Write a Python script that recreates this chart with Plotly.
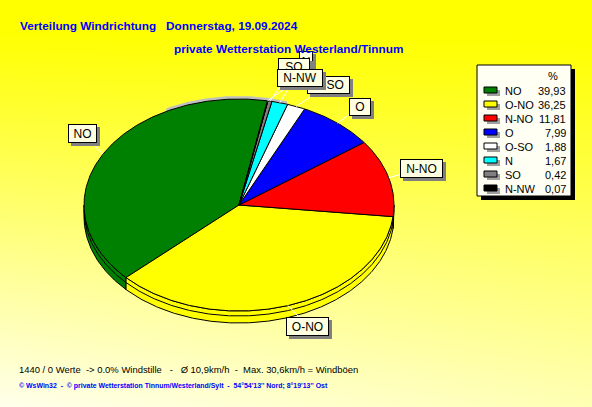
import numpy as np
import plotly.graph_objects as go

# ---------------- data ----------------
labels = ["NO", "O-NO", "N-NO", "O", "O-SO", "N", "SO", "N-NW"]
values = [39.93, 36.25, 11.81, 7.99, 1.88, 1.67, 0.42, 0.07]
value_text = ["39,93", "36,25", "11,81", "7,99", "1,88", "1,67", "0,42", "0,07"]
colors = ["#008000", "#FFFF00", "#FF0000", "#0000FF", "#FFFFFF", "#00FFFF", "#808080", "#000000"]

title1 = "Verteilung Windrichtung   Donnerstag, 19.09.2024"
title2 = "private Wetterstation Westerland/Tinnum"
footer1 = "1440 / 0 Werte  -> 0.0% Windstille   -   Ø 10,9km/h  -  Max. 30,6km/h = Windböen"
footer2 = "© WsWin32  -  © private Wetterstation Tinnum/Westerland/Sylt  -  54°54'13'' Nord; 8°19'13'' Ost"

# ---------------- layout constants ----------------
W, H = 592, 407
CX, CY, RX, RY, DEPTH = 239, 205, 155, 106, 12
START = 79.5  # degrees, counter-clockwise

# label box centres and sizes (pixels)
label_pos = {
    "NO": (82.5, 133.5, 29, 19),
    "N-NO": (421.5, 168.5, 43, 19),
    "O-NO": (307.5, 326, 43, 19),
    "O": (360, 106.5, 22, 18),
    "N": (306, 60, 14, 19),
    "SO": (294, 67, 32, 18),
    "O-SO": (328.5, 84.5, 43, 18),
    "N-NW": (300, 78, 46, 18),
}
label_valign = {"N": "bottom"}
label_draw_order = ["NO", "N-NO", "O-NO", "O", "N", "SO", "O-SO", "N-NW"]

SANS = "Liberation Sans, Arial, sans-serif"


def sp(s):
    return s.replace(" ", "\u00a0")


def ell(theta_deg, dy=0.0, rx=RX, ry=RY):
    t = np.radians(theta_deg)
    return CX + rx * np.cos(t), CY - ry * np.sin(t) + dy


fig = go.Figure()

# background gradient
gx = np.linspace(0, W, 60)
gy = np.linspace(0, H, 45)
GX, GY = np.meshgrid(gx, gy)
GZ = np.clip((GY / H) * (1.0 - 0.22 * GX / W) * 1.08 - 0.08, 0, 1)
fig.add_trace(go.Heatmap(x=gx, y=gy, z=GZ, zsmooth="best", showscale=False,
                         colorscale=[[0, "rgb(255,255,0)"], [1, "rgb(255,255,236)"]],
                         zmin=0, zmax=1, hoverinfo="skip"))

total = sum(values)
bounds = START + 360.0 * np.concatenate([[0], np.cumsum(values)]) / total

# light grey rim at the back top
th = np.linspace(72, 118, 60)
bx1, by1 = ell(th, -3)
bx2, by2 = ell(th[::-1])
fig.add_trace(go.Scatter(x=np.concatenate([bx1, bx2]), y=np.concatenate([by1, by2]),
                         fill="toself", fillcolor="#C0C0C0", line=dict(width=0),
                         mode="lines", hoverinfo="skip", showlegend=False))

# side walls (front half)
for i, lab in enumerate(labels):
    a0, a1 = bounds[i], bounds[i + 1]
    lo, hi = max(a0, 180), min(a1, 360)
    if hi <= lo:
        continue
    th = np.linspace(lo, hi, max(4, int((hi - lo) * 2)))
    tx, ty = ell(th)
    bx, by = ell(th[::-1], DEPTH)
    fig.add_trace(go.Scatter(x=np.concatenate([tx, bx, tx[:1]]), y=np.concatenate([ty, by, ty[:1]]),
                             fill="toself", fillcolor=colors[i], line=dict(color="black", width=1),
                             mode="lines", hoverinfo="skip", showlegend=False))
    mx, my = ell(th, 5)
    fig.add_trace(go.Scatter(x=mx, y=my, mode="lines", line=dict(color="black", width=1),
                             hoverinfo="skip", showlegend=False))

# top surfaces
for i, lab in enumerate(labels):
    a0, a1 = bounds[i], bounds[i + 1]
    th = np.linspace(a0, a1, max(3, int((a1 - a0) * 2)))
    tx, ty = ell(th)
    fig.add_trace(go.Scatter(x=np.concatenate([[CX], tx, [CX]]), y=np.concatenate([[CY], ty, [CY]]),
                             fill="toself", fillcolor=colors[i], line=dict(color="black", width=1),
                             mode="lines", hoverinfo="skip", showlegend=False, name=lab))

# leader lines
for i, lab in enumerate(labels):
    mid = 0.5 * (bounds[i] + bounds[i + 1])
    ex, ey = ell(mid)
    lx, ly, _, _ = label_pos[lab]
    fig.add_trace(go.Scatter(x=[ex, lx], y=[ey, ly], mode="lines",
                             line=dict(color="white", width=1), hoverinfo="skip", showlegend=False))

annotations = []
for lab in label_draw_order:
    lx, ly, w, h = label_pos[lab]
    va = label_valign.get(lab, "middle")
    annotations.append(dict(x=lx, y=ly, xref="x", yref="y", text=lab, showarrow=False,
                            xshift=3, yshift=-3, width=w - 2, height=h - 2, borderpad=0, valign=va,
                            bgcolor="#808080", bordercolor="#808080", borderwidth=1,
                            font=dict(family=SANS, size=12, color="#808080")))
    annotations.append(dict(x=lx, y=ly, xref="x", yref="y", text=lab, showarrow=False,
                            width=w - 2, height=h - 2, borderpad=0, valign=va,
                            bgcolor="#FFFFE1", bordercolor="black", borderwidth=1,
                            font=dict(family=SANS, size=12, color="black")))

# legend box
shapes = [
    dict(type="rect", xref="x", yref="y", x0=481, x1=575, y0=69, y1=200,
         fillcolor="black", line=dict(width=0), layer="above"),
    dict(type="rect", xref="x", yref="y", x0=477, x1=571, y0=65, y1=196,
         fillcolor="#FFFFF4", line=dict(color="black", width=1), layer="above"),
]
annotations.append(dict(x=553, y=75.5, xref="x", yref="y", text="%", showarrow=False,
                        font=dict(family=SANS, size=11, color="black")))
row0, dr = 91.0, 14.0
for i, lab in enumerate(labels):
    ry = row0 + i * dr
    shapes.append(dict(type="rect", xref="x", yref="y", x0=487, x1=500, y0=ry - 1, y1=ry + 5,
                       fillcolor="#A0A0A0", line=dict(width=0), layer="above"))
    shapes.append(dict(type="rect", xref="x", yref="y", x0=484, x1=497, y0=ry - 4, y1=ry + 2,
                       fillcolor=colors[i], line=dict(color="black", width=1), layer="above"))
    annotations.append(dict(x=503, y=ry, xref="x", yref="y", text=lab, showarrow=False,
                            xanchor="left", yanchor="middle",
                            font=dict(family=SANS, size=11, color="black")))
    annotations.append(dict(x=568, y=ry, xref="x", yref="y", text=value_text[i], showarrow=False,
                            xanchor="right", yanchor="middle",
                            font=dict(family=SANS, size=11, color="black")))

# titles & footer
annotations.append(dict(x=18, y=26, xref="x", yref="y", text=sp(title1), showarrow=False,
                        xanchor="left", yanchor="middle",
                        font=dict(family=SANS, size=11.8, color="#0000FF", weight="bold")))
annotations.append(dict(x=172, y=49, xref="x", yref="y", text=sp(title2), showarrow=False,
                        xanchor="left", yanchor="middle",
                        font=dict(family=SANS, size=11.8, color="#0000FF", weight="bold")))
annotations.append(dict(x=17, y=369, xref="x", yref="y", text=sp(footer1), showarrow=False,
                        xanchor="left", yanchor="middle",
                        font=dict(family=SANS, size=9.45, color="black")))
annotations.append(dict(x=17, y=386, xref="x", yref="y", text=sp(footer2), showarrow=False,
                        xanchor="left", yanchor="middle",
                        font=dict(family=SANS, size=6.95, color="#0000FF", weight="bold")))

fig.update_layout(
    width=W, height=H, margin=dict(l=0, r=0, t=0, b=0),
    paper_bgcolor="#FFFF80", plot_bgcolor="rgba(0,0,0,0)",
    xaxis=dict(range=[0, W], visible=False, fixedrange=True),
    yaxis=dict(range=[H, 0], visible=False, fixedrange=True),
    showlegend=False, shapes=shapes, annotations=annotations,
)

fig.write_html("out.html", config={"displayModeBar": False},
               post_script="document.body.style.margin='0';document.body.style.overflow='hidden';")
